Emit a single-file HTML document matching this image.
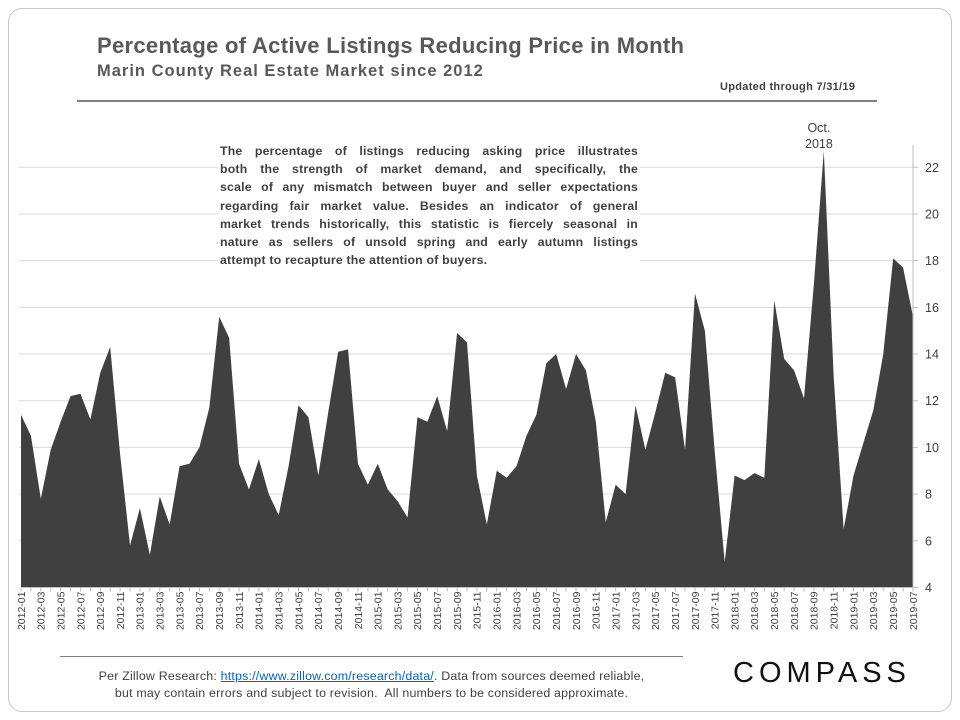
<!DOCTYPE html>
<html><head><meta charset="utf-8"><style>
body{margin:0;background:#fff;font-family:"Liberation Sans",sans-serif;}
#wrap{position:relative;width:960px;height:720px;overflow:hidden;}
.card{position:absolute;left:8px;top:8px;width:942px;height:702px;border:1px solid #c8c8c8;border-radius:14px;}
.t{position:absolute;white-space:nowrap;}
.ln{text-align:justify;text-align-last:justify;height:18.2px;}
.ln.last{text-align-last:left;}
</style></head><body><div id="wrap">
<div class="card"></div>
<div class="t" style="left:97px;top:33px;font-size:22px;font-weight:bold;color:#595959;letter-spacing:0.3px">Percentage of Active Listings Reducing Price in Month</div>
<div class="t" style="left:97px;top:62px;font-size:16.5px;font-weight:bold;color:#595959;letter-spacing:1px">Marin County Real Estate Market since 2012</div>
<div class="t" style="left:720px;top:81px;font-size:11px;font-weight:bold;color:#404040;letter-spacing:0.3px">Updated through 7/31/19</div>
<div style="position:absolute;left:77px;top:100px;width:800px;height:2px;background:#7f7f7f"></div>
<svg id="chart" width="960" height="720" style="position:absolute;left:0;top:0"></svg>
<div style="position:absolute;left:218px;top:140px;width:418px;padding:2px 2px;background:#fff;font-size:12.3px;font-weight:bold;color:#404040;line-height:18.2px;letter-spacing:0.2px">
<div class="ln">The percentage of listings reducing asking price illustrates</div>
<div class="ln">both the strength of market demand, and specifically, the</div>
<div class="ln">scale of any mismatch between buyer and seller expectations</div>
<div class="ln">regarding fair market value. Besides an indicator of general</div>
<div class="ln">market trends historically, this statistic is fiercely seasonal in</div>
<div class="ln">nature as sellers of unsold spring and early autumn listings</div>
<div class="ln last">attempt to recapture the attention of buyers.</div>
</div>
<div class="t" style="left:805px;top:120px;font-size:12.5px;color:#404040;text-align:center;line-height:16px">Oct.<br>2018</div>
<div style="position:absolute;left:60px;top:656px;width:623px;height:1px;background:#7f7f7f"></div>
<div class="t" style="left:40px;top:668px;width:663px;text-align:center;font-size:12.4px;color:#404040;line-height:17px;letter-spacing:0.2px">Per Zillow Research: <span style="color:#0563c1;text-decoration:underline">https://www.zillow.com/research/data/</span>. Data from sources deemed reliable,<br>but may contain errors and subject to revision.&nbsp; All numbers to be considered approximate.</div>
<div class="t" style="left:733px;top:657px;font-size:29px;letter-spacing:5px;color:#111">COMPASS</div>
</div>
<script>
const years=[2012,2013,2014,2015,2016,2017,2018,2019];
const values=[11.4,10.5,7.8,9.9,11.1,12.2,12.3,11.2,13.2,14.3,9.7,5.8,
7.4,5.4,7.9,6.7,9.2,9.3,10.0,11.7,15.6,14.7,9.3,8.2,
9.5,8.0,7.1,9.2,11.8,11.3,8.8,11.5,14.1,14.2,9.3,8.4,
9.3,8.2,7.7,7.0,11.3,11.1,12.2,10.7,14.9,14.5,8.8,6.7,
9.0,8.7,9.2,10.5,11.4,13.6,14.0,12.5,14.0,13.3,11.1,6.8,
8.4,8.0,11.8,9.9,11.5,13.2,13.0,9.9,16.6,15.0,9.8,5.1,
8.8,8.6,8.9,8.7,16.3,13.8,13.3,12.1,17.0,22.7,13.0,6.5,
8.8,10.2,11.6,14.0,18.1,17.7,15.6];
const yTicks=[4,6,8,10,12,14,16,18,20,22];
const categories=[];
for(let i=0;i<values.length;i++){const y=years[Math.floor(i/12)],m=i%12+1;categories.push(y+'-'+(m<10?'0':'')+m);}
const NS='http://www.w3.org/2000/svg',svg=document.getElementById('chart');
const X0=21,X1=913,Y4=587.5,Y22=167.3;
const xs=i=>X0+(X1-X0)*i/(categories.length-1);
const ys=v=>Y4+(v-4)*(Y22-Y4)/18;
function mk(t,a){const e=document.createElementNS(NS,t);for(const k in a)e.setAttribute(k,a[k]);svg.appendChild(e);return e;}
yTicks.forEach(v=>{if(v>4){const g=mk('line',{x1:X0-2,x2:X1,y1:ys(v),y2:ys(v),stroke:'#d9d9d9','stroke-width':1});

}});
let d='M'+xs(0)+','+Y4;
values.forEach((v,i)=>{d+=' L'+xs(i)+','+ys(v);});
d+=' L'+xs(values.length-1)+','+Y4+' Z';
const area=mk('path',{d:d,fill:'#404040'});


const ax=mk('line',{x1:X1,x2:X1,y1:145,y2:Y4,stroke:'#bfbfbf'});


const bx=mk('line',{x1:X0,x2:X1,y1:Y4,y2:Y4,stroke:'#bfbfbf'});


yTicks.forEach(v=>{mk('line',{x1:X1,x2:X1+5,y1:ys(v),y2:ys(v),stroke:'#bfbfbf'});
const t=mk('text',{x:925,y:ys(v)+4.5,'font-size':'12.5','fill':'#404040','font-family':'Liberation Sans, sans-serif'});
t.textContent=v;

});
categories.forEach((c,i)=>{mk('line',{x1:xs(i),x2:xs(i),y1:Y4,y2:Y4+4,stroke:'#bfbfbf'});
if(i%2===0){const t=mk('text',{x:0,y:0,'font-size':'10.5','fill':'#404040','text-anchor':'end','font-family':'Liberation Sans, sans-serif',transform:'translate('+(xs(i)+3.8)+','+(Y4+4)+') rotate(-90)'});
t.textContent=c;

}});
</script>
</body></html>
